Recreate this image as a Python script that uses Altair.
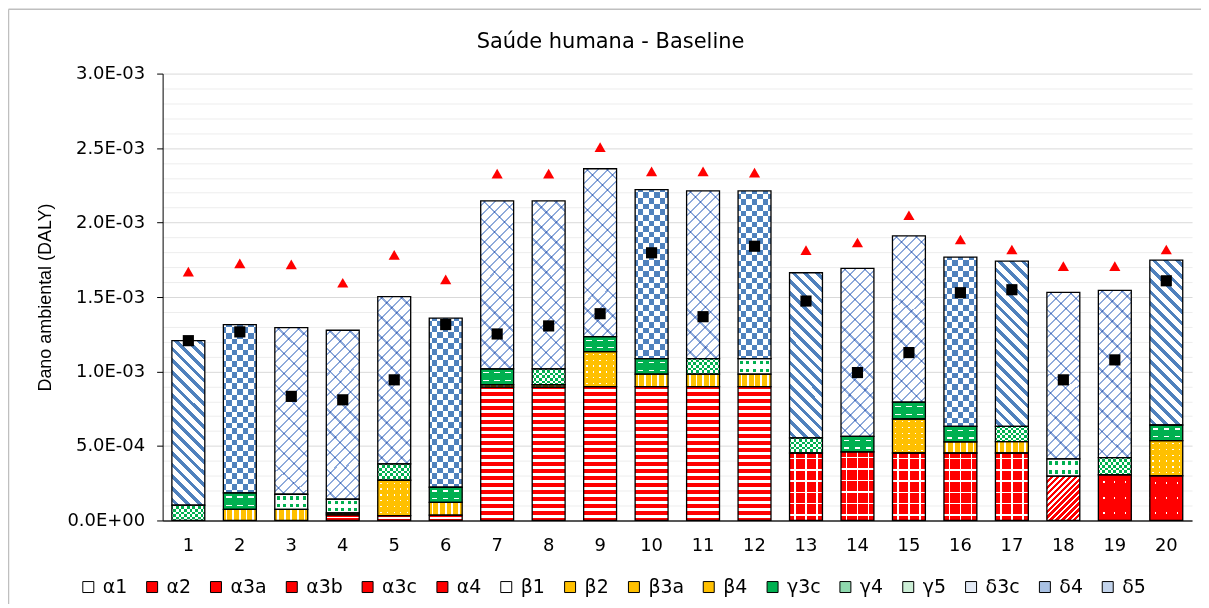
import math
import altair as alt
import pandas as pd

# ---------------- data ----------------
BARS = ["1", "2", "3", "4", "5", "6", "7", "8", "9", "10",
        "11", "12", "13", "14", "15", "16", "17", "18", "19", "20"]
SERIES = ["α1", "α2", "α3a", "α3b", "α3c", "α4", "β1", "β2", "β3a", "β4",
          "γ3c", "γ4", "γ5", "δ3c", "δ4", "δ5"]

UNIT = 1e-4  # stacked values below are given in 1e-4 DALY
alpha1  = [0, 0, 0, 0, 0,    0, 0, 0, 0, 0,    0, 0, 0, 0, 0,    0, 0, 0, 0, 0]
alpha2  = [0, 0, 0, 0.38, 0.33, 0.36, 0, 0, 0, 0, 0, 0, 0, 0, 0, 0, 0, 0, 0, 0]
alpha3a = [0, 0, 0, 0, 0, 0, 8.95, 8.95, 8.99, 8.99, 8.99, 8.99, 0, 0, 0, 0, 0, 0, 0, 0]
alpha3b = [0, 0, 0, 0, 0, 0, 0, 0, 0, 0, 0, 0, 4.53, 4.60, 4.53, 4.53, 4.53, 0, 0, 0]
alpha3c = [0, 0, 0, 0, 0, 0, 0, 0, 0, 0, 0, 0, 0, 0, 0, 0, 0, 2.98, 0, 0]
alpha4  = [0, 0, 0, 0, 0, 0, 0, 0, 0, 0, 0, 0, 0, 0, 0, 0, 0, 0, 3.07, 3.00]
beta1   = [0, 0, 0, 0, 0, 0, 0, 0, 0, 0, 0, 0, 0, 0, 0, 0, 0, 0, 0, 0]
beta2   = [0, 0, 0, 0, 0, 0, 0, 0, 0, 0, 0, 0, 0, 0, 0, 0, 0, 0, 0, 0]
beta3a  = [0, 0, 0, 0, 2.37, 0, 0, 0, 2.35, 0, 0, 0, 0, 0, 2.28, 0, 0, 0, 0, 2.36]
beta4   = [0, 0.74, 0.74, 0.12, 0, 0.85, 0.16, 0.16, 0, 0.83, 0.83, 0.83, 0, 0, 0, 0.74, 0.76, 0, 0, 0]
gamma3c = [0, 1.11, 0, 0, 0, 1.02, 1.07, 0, 1.00, 1.05, 0, 0, 0, 1.05, 1.14, 1.05, 0, 0, 0, 1.05]
gamma4  = [1.03, 0, 0, 0, 1.10, 0, 0, 1.07, 0, 0, 1.05, 0, 1.01, 0, 0, 0, 1.03, 0, 1.15, 0]
gamma5  = [0, 0, 1.02, 0.93, 0, 0, 0, 0, 0, 0, 0, 1.05, 0, 0, 0, 0, 0, 1.15, 0, 0]
delta3c = [0, 0, 11.19, 11.34, 11.22, 0, 11.27, 11.27, 11.27, 0, 11.25, 0, 0, 11.27, 11.15, 0, 0, 11.18, 11.23, 0]
delta4  = [0, 11.30, 0, 0, 0, 11.36, 0, 0, 0, 11.34, 0, 11.25, 0, 0, 0, 11.36, 0, 0, 0, 0]
delta5  = [11.04, 0, 0, 0, 0, 0, 0, 0, 0, 0, 0, 0, 11.09, 0, 0, 0, 11.09, 0, 0, 11.07]
VALUES = [alpha1, alpha2, alpha3a, alpha3b, alpha3c, alpha4, beta1, beta2, beta3a, beta4,
          gamma3c, gamma4, gamma5, delta3c, delta4, delta5]

MUNIT = 1e-3  # marker values in 1e-3 DALY
squares   = [1.207, 1.266, 0.833, 0.810, 0.944, 1.315, 1.252, 1.306, 1.388, 1.797,
             1.368, 1.841, 1.473, 0.993, 1.127, 1.529, 1.549, 0.944, 1.078, 1.609]
triangles = [1.670, 1.726, 1.719, 1.596, 1.783, 1.618, 2.328, 2.328, 2.506, 2.344,
             2.344, 2.335, 1.815, 1.866, 2.049, 1.886, 1.819, 1.707, 1.707, 1.819]

LEGEND_COLORS = ["#FFFFFF", "#FF0000", "#FF0000", "#FF0000", "#FF0000", "#FF0000",
                 "#FFFFFF", "#FFC000", "#FFC000", "#FFC000",
                 "#00B050", "#8FD9AE", "#CDEFD7", "#E3EAF5", "#A9C1E3", "#C3D4EC"]

rows = []
for k, (s, vals) in enumerate(zip(SERIES, VALUES)):
    for b, v in zip(BARS, vals):
        if v > 0:
            rows.append({"bar": b, "series": s, "order": k, "value": v * UNIT})
df = pd.DataFrame(rows)
mk = pd.DataFrame({"bar": BARS,
                   "sq": [v * MUNIT for v in squares],
                   "tri": [v * MUNIT for v in triangles]})

# ---------------- geometry / style ----------------
PLOT_W, PLOT_H, YMAX, BAR_W = 1032, 448, 3e-3, 33
R, W, K, Y_, G, B, LB = "#FF0000", "#FFFFFF", "#000000", "#FFC000", "#00B050", "#4F81BD", "#8EAADB"


def inv(c):
    r, g, b = int(c[1:3], 16), int(c[3:5], 16), int(c[5:7], 16)
    return "#%02X%02X%02X" % (255 - r, 255 - g, 255 - b)


def seg_h(vals):
    nz = [v for v in vals if v > 0]
    return sum(nz) / len(nz) * UNIT * PLOT_H / YMAX


def stops(n, frac, on, off):
    out = []
    s1 = (1 - frac) / 2
    for i in range(n):
        a = i / n
        for f, c in [(0, off), (s1, off), (s1, on), (s1 + frac, on), (s1 + frac, off), (1, off)]:
            out.append({"offset": round(a + f / n, 5), "color": c})
    return out


def g_h(h, period, frac, on, off):
    n = max(1, round(h / period))
    return {"gradient": "linear", "x1": 0, "y1": 0, "x2": 0, "y2": 1, "stops": stops(n, frac, on, off)}


def g_v(period, frac, on, off):
    n = max(1, round(BAR_W / period))
    return {"gradient": "linear", "x1": 0, "y1": 0, "x2": 1, "y2": 0, "stops": stops(n, frac, on, off)}


def g_d(h, period, frac, on, off, rising=True):
    w = BAR_W
    k = (w + h) / (w * w + h * h)
    n = max(1, round((w + h) / math.sqrt(2) / period))
    if rising:
        x1, y1, x2, y2 = 0, 0, k * w, k * h
    else:
        x1, y1, x2, y2 = 0, 1, k * w, 1 - k * h
    return {"gradient": "linear", "x1": x1, "y1": y1, "x2": round(x2, 5), "y2": round(y2, 5),
            "stops": stops(n, frac, on, off)}


H = {s: seg_h(v) for s, v in zip(SERIES, VALUES) if any(x > 0 for x in v)}

PATTERNS = {
    "α2": [(g_h(H["α2"], H["α2"], 0.3, W, R), None)],
    "α3a": [(g_h(H["α3a"], 7.2, 0.42, W, R), None)],
    "α3b": [(g_h(H["α3b"], 11.5, 0.14, W, R), None), (g_v(11, 0.14, W, K), "screen")],
    "α3c": [(g_d(H["α3c"], 4.3, 0.45, W, R, True), None)],
    "α4": [(g_h(H["α4"], 13, 0.14, W, K), None), (g_v(11, 0.12, W, K), "darken"), (R, "screen")],
    "β3a": [(g_h(H["β3a"], 5.5, 0.22, W, K), None), (g_v(6.6, 0.2, W, K), "darken"), (Y_, "screen")],
    "β4": [(g_v(6.6, 0.25, W, Y_), None)],
    "γ3c": [(g_h(H["γ3c"], 7.5, 0.17, W, K), None), (g_v(11, 0.5, W, K), "darken"), (G, "screen")],
    "γ4": [(g_h(H["γ4"], 5.5, 0.5, inv(G), K), None), (g_v(5.5, 0.5, inv(G), K), "difference"),
           (W, "difference")],
    "γ5": [(g_h(H["γ5"], 6.5, 0.45, inv(G), K), None), (g_v(6.6, 0.45, inv(G), K), "darken"),
           (W, "difference")],
    "δ3c": [(g_d(H["δ3c"], 7, 0.2, LB, W, True), None), (g_d(H["δ3c"], 14, 0.12, LB, W, False), "multiply")],
    "δ4": [(g_h(H["δ4"], 11, 0.5, inv(B), K), None), (g_v(11, 0.5, inv(B), K), "difference"),
           (W, "difference")],
    "δ5": [(g_d(H["δ5"], 8.5, 0.4, B, W, False), None)],
}

MINOR = "round(datum.value*10000) % 5 != 0"
LOG10 = "floor(log(datum.value)/LN10 + 1e-9)"
label_expr = ("(%s) ? '' : (datum.value < 1e-12 ? '0.0E+00' : "
              "format(datum.value / pow(10, %s), '.1f') + 'E-0' + toString(-%s))") % (MINOR, LOG10, LOG10)

yscale = alt.Scale(domain=[0, YMAX], nice=False, zero=True)
yaxis = alt.Axis(values=[round(i * 1e-4, 6) for i in range(31)], labelExpr=label_expr,
                 title="Dano ambiental (DALY)", titleFont="Liberation Sans", titleFontSize=18,
                 titleFontWeight="normal", titleColor="#000000", titlePadding=12,
                 labelFont="DejaVu Sans", labelFontSize=18, labelColor="#000000",
                 labelPadding=12, labelOverlap=False, labelFlush=False,
                 tickSize=6, tickColor="#000000",
                 tickOpacity={"condition": {"test": MINOR, "value": 0}, "value": 1},
                 gridColor={"condition": {"test": MINOR, "value": "#EDEDED"}, "value": "#D9D9D9"},
                 gridWidth=1, domainColor="#000000", domainWidth=1)
xaxis = alt.Axis(title=None, labelAngle=0, ticks=False, labelFont="DejaVu Sans", labelFontSize=18,
                 labelColor="#000000", labelPadding=16, domainColor="#262626", domainWidth=1.5, grid=False)

X = alt.X("bar:N", sort=BARS, scale=alt.Scale(paddingInner=0, paddingOuter=0), axis=xaxis)
Yst = alt.Y("y1:Q", scale=yscale, axis=yaxis)
Y2 = alt.Y2("y0:Q")


def stacked():
    return alt.Chart(df).transform_stack(
        stack="value", groupby=["bar"], as_=["y0", "y1"],
        sort=[alt.SortField(field="order", order="ascending")])


legend = alt.Legend(orient="none", legendX=-84, legendY=505, direction="horizontal", columns=16,
                    title=None, padding=0, symbolType="square", symbolSize=121, symbolStrokeColor="#000000",
                    symbolStrokeWidth=1, labelFont="DejaVu Sans", labelFontSize=19, labelColor="#000000",
                    columnPadding=15, labelOffset=5)

layers = [stacked().mark_bar(width=BAR_W, strokeWidth=0).encode(
    x=X, y=Yst, y2=Y2,
    fill=alt.Fill("series:N", scale=alt.Scale(domain=SERIES, range=LEGEND_COLORS), legend=legend))]

for s, specs in PATTERNS.items():
    for fill, blend in specs:
        kw = dict(width=BAR_W, fill=fill, strokeWidth=0)
        if blend:
            kw["blend"] = blend
        layers.append(stacked().transform_filter(alt.datum.series == s).mark_bar(**kw)
                      .encode(x=X, y=Yst, y2=Y2))

layers.append(stacked().mark_bar(width=BAR_W, fillOpacity=0, stroke="#000000", strokeWidth=1.3)
              .encode(x=X, y=Yst, y2=Y2))

layers.append(alt.Chart(mk).mark_point(shape="square", filled=True, size=125, color="#000000", opacity=1)
              .encode(x=X, y=alt.Y("sq:Q", scale=yscale, axis=yaxis)))
layers.append(alt.Chart(mk).mark_point(shape="triangle-up", filled=True, size=125, color="#FF0000", opacity=1)
              .encode(x=X, y=alt.Y("tri:Q", scale=yscale, axis=yaxis)))

one = mk[mk["bar"] == "1"]
layers.append(alt.Chart(one).mark_rule(color="#BFBFBF", strokeWidth=1.5)
              .encode(x=alt.value(-154.5), y=alt.value(-64.5), y2=alt.value(540)))
layers.append(alt.Chart(one).mark_rule(color="#BFBFBF", strokeWidth=1.5)
              .encode(x=alt.value(-154.5), x2=alt.value(1045), y=alt.value(-64.5)))

chart = alt.layer(*layers).properties(
    width=PLOT_W, height=PLOT_H,
    autosize=alt.AutoSizeParams(type="none"),
    padding={"left": 155, "top": 65, "right": 9, "bottom": 83},
    background="white",
    title=alt.Title("Saúde humana - Baseline", font="DejaVu Sans", fontSize=21, fontWeight="normal",
                    color="#000000", anchor="middle", dx=-67, offset=-44),
).configure_view(strokeWidth=0)

chart.save("out.html", embed_options={"renderer": "svg", "actions": False})
